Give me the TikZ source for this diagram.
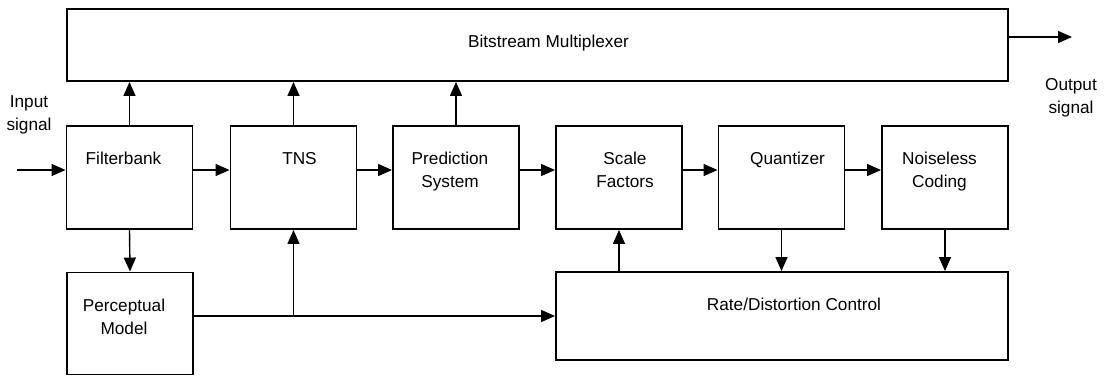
\documentclass[tikz,border=0pt]{standalone}
\usepackage{fontspec}
\setmainfont{Liberation Sans}
\usetikzlibrary{arrows.meta, calc, positioning}

\begin{document}
\begin{tikzpicture}[x=0.02cm, y=-0.02cm, >={Triangle[length=0.28cm,width=0.24cm]},
  blk/.style={draw, line width=1.1pt, minimum width=2.52cm, minimum height=2.06cm, inner sep=0pt},
  lbl/.style={anchor=north, align=center, inner sep=0pt, font=\fontsize{9.8}{13}\selectfont},
  wire/.style={line width=0.8pt}]
\useasboundingbox (0,0) rectangle (1107,376);
\node[blk, minimum width=18.82cm, minimum height=1.44cm] (mux) at (537.5,45) {};
\node[blk] (fb) at (129.5,177.5) {};
\node[blk] (tns) at (293.5,177.5) {};
\node[blk] (ps) at (456,177.5) {};
\node[blk] (sf) at (619,177.5) {};
\node[blk] (qz) at (781.5,177.5) {};
\node[blk] (nc) at (945,177.5) {};
\node[blk, minimum height=2.04cm] (pm) at (130,323.5) {};
\node[blk, minimum width=9.04cm, minimum height=1.76cm] (rd) at (782,316) {};
\node[lbl] (muxt) at ([xshift=0.22cm,yshift=-0.54cm]mux.north) {Bitstream Multiplexer};
\node[lbl] (fbt) at ([xshift=-0.12cm,yshift=-0.54cm]fb.north) {Filterbank};
\node[lbl] (tnst) at ([xshift=0.12cm,yshift=-0.54cm]tns.north) {TNS};
\node[lbl] (pst) at ([xshift=-0.12cm,yshift=-0.54cm]ps.north) {Prediction\\System};
\node[lbl] (sft) at ([xshift=0.12cm,yshift=-0.54cm]sf.north) {Scale\\Factors};
\node[lbl] (qzt) at ([xshift=0.12cm,yshift=-0.54cm]qz.north) {Quantizer};
\node[lbl] (nct) at ([xshift=-0.11cm,yshift=-0.54cm]nc.north) {Noiseless\\Coding};
\node[lbl] (pmt) at ([xshift=-0.12cm,yshift=-0.54cm]pm.north) {Perceptual\\Model};
\node[lbl] (rdt) at ([xshift=0.24cm,yshift=-0.54cm]rd.north) {Rate/Distortion Control};
\node[lbl] (inp) at (29,95) {Input\\signal};
\node[lbl] (outp) at (1071,78) {Output\\signal};
\coordinate (in) at (17,170);
\coordinate (out) at (1072,37);
\draw[wire,->] (in) -- (in -| fb.west);
\draw[wire,->] (out -| mux.east) -- (out);
\foreach \a/\b in {fb/tns, tns/ps, ps/sf, sf/qz, qz/nc}
  \draw[wire,->] ([yshift=0.15cm]\a.east) -- ([yshift=0.15cm]\b.west);
\foreach \a in {fb, tns, ps}
  \draw[wire,->] (\a.north) -- (\a.north |- mux.south);
\draw[wire,->] (fb.south) -- (pm.north);
\coordinate (br) at (tns.south |- rd.west);
\draw[wire,->] (pm.east |- rd.west) -- (rd.west);
\draw[wire,->] (br) -- (tns.south);
\draw[wire,->] (sf.south |- rd.north) -- (sf.south);
\foreach \a in {qz, nc}
  \draw[wire,->] (\a.south) -- (\a.south |- rd.north);
\end{tikzpicture}
\end{document}
